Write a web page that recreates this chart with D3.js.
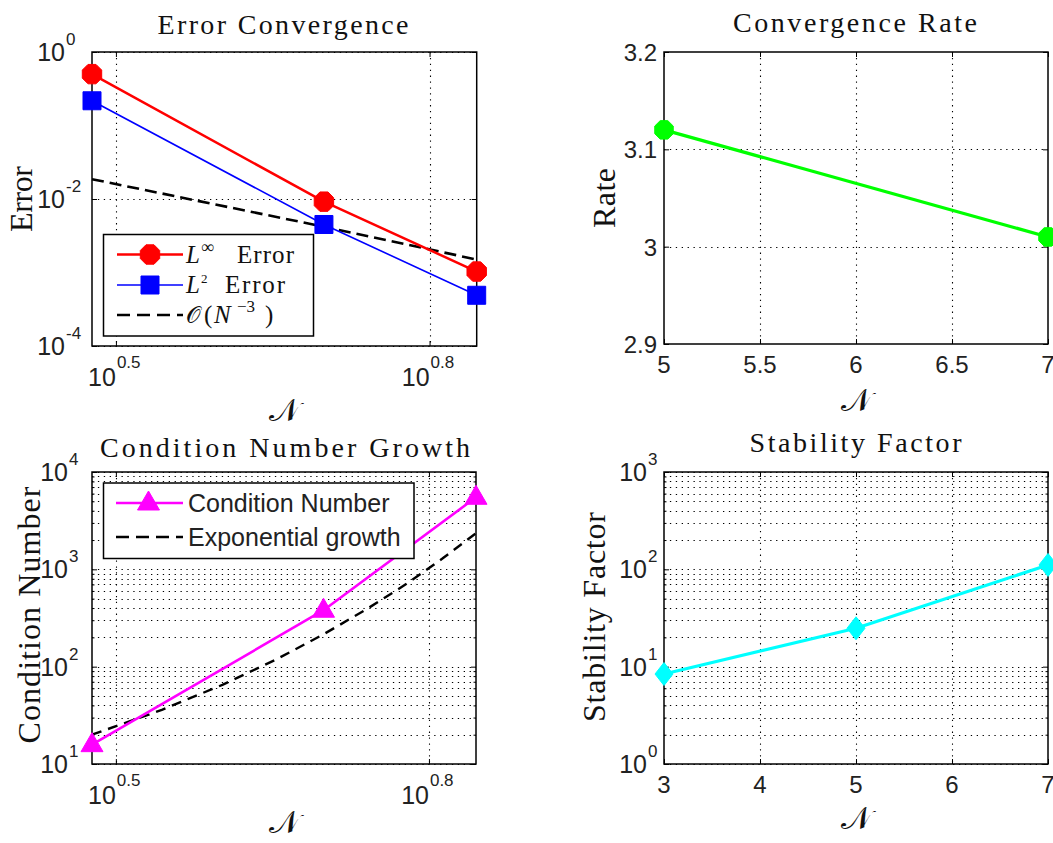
<!DOCTYPE html>
<html>
<head>
<meta charset="utf-8">
<script src="https://cdn.jsdelivr.net/npm/d3@7"></script>
<style>
  html, body { margin: 0; padding: 0; background: #fff; }
  svg { display: block; }
</style>
</head>
<body>
<svg id="fig" width="1053" height="843"></svg>
<script>
// ---- data ----
const errN = [3, 5, 7];
const errLinf = [0.50, 0.0092, 0.00103];
const errL2 = [0.217, 0.0045, 0.00049];
const refCubic = [0.0186, 0.0042, 0.0015];

const rateN = [5, 7];
const rateVals = [3.12, 3.01];

const condN = [3, 5, 7];
const condVals = [15.8, 380, 5500];
const growthN = [3, 3.5, 4, 4.5, 5, 5.5, 6, 6.5, 7];
const growthVals = [20, 36, 65, 118, 215, 390, 705, 1290, 2350];

const stabN = [3, 5, 7];
const stabVals = [8.4, 24.8, 111];

// ---- tick definitions ----
const logNTicks = [Math.pow(10, 0.5), Math.pow(10, 0.8)];
const logNTickExp = ["0.5", "0.8"];
const errYTicks = [1, 1e-2, 1e-4];
const errYTickExp = ["0", "-2", "-4"];
const rateXTicks = [5, 5.5, 6, 6.5, 7];
const rateXLabels = ["5", "5.5", "6", "6.5", "7"];
const rateYTicks = [2.9, 3.0, 3.1, 3.2];
const rateYLabels = ["2.9", "3", "3.1", "3.2"];
const condYTicks = [1e1, 1e2, 1e3, 1e4];
const condYTickExp = ["1", "2", "3", "4"];
const stabXTicks = [3, 4, 5, 6, 7];
const stabXLabels = ["3", "4", "5", "6", "7"];
const stabYTicks = [1, 1e1, 1e2, 1e3];
const stabYTickExp = ["0", "1", "2", "3"];

const SERIF = "'Liberation Serif', 'Times New Roman', serif";
const SANS = "'Liberation Sans', Arial, Helvetica, sans-serif";
const MATHFONT = "'DejaVu Serif', 'DejaVu Sans', serif";
const TICK_FS = 24, EXP_FS = 17;

const svg = d3.select("#fig");

function minorLogValues(domain) {
  const out = [];
  const lo = Math.floor(Math.log10(domain[0])), hi = Math.ceil(Math.log10(domain[1]));
  for (let k = lo; k < hi; k++) for (let m = 2; m <= 9; m++) {
    const v = m * Math.pow(10, k);
    if (v > domain[0] && v < domain[1]) out.push(v);
  }
  return out;
}

function drawPanel(p) {
  const g = svg.append("g");
  const x = p.x, y = p.y;
  const [x0, x1] = x.range(), [y1, y0] = y.range();

  // gridlines
  const grid = g.append("g").attr("stroke", "#000").attr("stroke-width", 1.1)
    .attr("stroke-dasharray", "1.3,4.6");
  const hLines = p.yGrid.concat(p.yMinorGrid || []);
  grid.selectAll("line.h").data(hLines).join("line")
    .attr("x1", x0).attr("x2", x1)
    .attr("y1", d => Math.round(y(d)) + 0.5).attr("y2", d => Math.round(y(d)) + 0.5);
  grid.selectAll("line.v").data(p.xGrid).join("line")
    .attr("y1", y0).attr("y2", y1)
    .attr("x1", d => Math.round(x(d)) + 0.5).attr("x2", d => Math.round(x(d)) + 0.5);

  // tick marks on all four sides, pointing inward
  const tickG = g.append("g");
  const axes = [
    [d3.axisBottom(x), `translate(0,${y1})`, p.xTicks, 5],
    [d3.axisTop(x), `translate(0,${y0})`, p.xTicks, 5],
    [d3.axisLeft(y), `translate(${x0},0)`, p.yTicks, 5],
    [d3.axisRight(y), `translate(${x1},0)`, p.yTicks, 5]
  ];
  if (p.yMinorTicks) {
    axes.push([d3.axisLeft(y), `translate(${x0},0)`, p.yMinorTicks, 2.5]);
    axes.push([d3.axisRight(y), `translate(${x1},0)`, p.yMinorTicks, 2.5]);
  }
  axes.forEach(([ax, tr, vals, len]) => {
    const a = tickG.append("g").attr("transform", tr)
      .call(ax.tickValues(vals).tickSizeInner(-len).tickSizeOuter(0).tickFormat(""));
    a.select(".domain").remove();
    a.selectAll("line").attr("stroke", "#000").attr("stroke-width", 1);
  });

  // series
  p.series.forEach(s => {
    const line = d3.line().x((d, i) => x(s.xs[i])).y(d => y(d));
    g.append("path").datum(s.ys).attr("d", line)
      .attr("fill", "none").attr("stroke", s.color).attr("stroke-width", s.width)
      .attr("stroke-dasharray", s.dash || null).attr("stroke-linejoin", "round");
  });

  // axes box
  g.append("rect").attr("x", x0).attr("y", y0).attr("width", x1 - x0).attr("height", y1 - y0)
    .attr("fill", "none").attr("stroke", "#000").attr("stroke-width", 1.5);

  // markers
  p.series.forEach(s => {
    if (!s.marker) return;
    g.append("g").selectAll("path").data(s.ys).join("path")
      .attr("transform", (d, i) => `translate(${x(s.xs[i])},${y(d)})`)
      .attr("d", markerPath(s.marker)).attr("fill", s.color).attr("stroke", s.color)
      .attr("stroke-width", 1);
  });

  // tick labels
  const lab = g.append("g").attr("font-family", SANS).attr("fill", "#222");
  if (p.xLogLabels) {
    p.xTicks.forEach((v, i) => {
      lab.append("text").attr("x", x(v)).attr("y", y1 + 40).attr("text-anchor", "end")
        .attr("font-size", TICK_FS + 1).text("10");
      lab.append("text").attr("x", x(v) + 1).attr("y", y1 + 22).attr("text-anchor", "start")
        .attr("font-size", EXP_FS).text(p.xLogLabels[i]);
    });
  } else {
    p.xTicks.forEach((v, i) => {
      lab.append("text").attr("x", x(v)).attr("y", y1 + 29).attr("text-anchor", "middle")
        .attr("font-size", TICK_FS).text(p.xLabels[i]);
    });
  }
  if (p.yLogLabels) {
    p.yTicks.forEach((v, i) => {
      lab.append("text").attr("x", p.yBaseRight).attr("y", y(v) + 9).attr("text-anchor", "end")
        .attr("font-size", TICK_FS + 1).text("10");
      lab.append("text").attr("x", p.yBaseRight + 1).attr("y", y(v) - 7).attr("text-anchor", "start")
        .attr("font-size", EXP_FS).text(p.yLogLabels[i]);
    });
  } else {
    p.yTicks.forEach((v, i) => {
      lab.append("text").attr("x", x0 - 7).attr("y", y(v) + 9).attr("text-anchor", "end")
        .attr("font-size", TICK_FS).text(p.yLabels[i]);
    });
  }

  // title
  g.append("text").attr("x", p.title.cx).attr("y", p.title.y).attr("text-anchor", "middle")
    .attr("font-family", SERIF).attr("font-size", 28).attr("fill", "#111")
    .attr("textLength", p.title.w).attr("lengthAdjust", "spacing").text(p.title.text);

  // y label
  g.append("text").attr("transform", `translate(${p.ylab.x},${p.ylab.cy}) rotate(-90)`)
    .attr("text-anchor", "middle").attr("font-family", SERIF).attr("font-size", 32).attr("fill", "#111")
    .attr("textLength", p.ylab.w).attr("lengthAdjust", "spacing").text(p.ylab.text);

  // x label (calligraphic N)
  g.append("text").attr("x", (x0 + x1) / 2).attr("y", p.xlabY).attr("text-anchor", "middle")
    .attr("font-family", MATHFONT).attr("font-size", 32).attr("fill", "#111").text("\u{1D4A9}");

  return g;
}

function octagon(r) {
  const pts = [];
  for (let k = 0; k < 8; k++) {
    const a = Math.PI / 8 + k * Math.PI / 4;
    pts.push([r * Math.cos(a), r * Math.sin(a)]);
  }
  return "M" + pts.map(p => p.join(",")).join("L") + "Z";
}

function markerPath(type) {
  if (type === "octagon") return octagon(10.5);
  if (type === "octagonSmall") return octagon(10);
  if (type === "square") return "M-9,-9L9,-9L9,9L-9,9Z";
  if (type === "triangle") return "M0,-12L-11,7L11,7Z";
  if (type === "diamond") return "M0,-11.5L9,0L0,11.5L-9,0Z";
  return "";
}

// ---- Panel 1: error convergence ----
drawPanel({
  x: d3.scaleLog().domain([3, 7]).range([92, 476.7]),
  y: d3.scaleLog().domain([1e-4, 1]).range([346, 52]),
  xTicks: logNTicks, xGrid: logNTicks, xLogLabels: logNTickExp,
  yTicks: errYTicks, yGrid: errYTicks, yLogLabels: errYTickExp, yBaseRight: 65,
  series: [
    { xs: errN, ys: refCubic, color: "#000", width: 2.6, dash: "12,6" },
    { xs: errN, ys: errLinf, color: "#ff0000", width: 2.5, marker: "octagon" },
    { xs: errN, ys: errL2, color: "#0000ff", width: 1.6, marker: "square" }
  ],
  title: { text: "Error Convergence", cx: 283, y: 34, w: 251 },
  ylab: { text: "Error", x: 32, cy: 199, w: 66 },
  xlabY: 421
});

// ---- Panel 2: convergence rate ----
drawPanel({
  x: d3.scaleLinear().domain([5, 7]).range([664, 1048]),
  y: d3.scaleLinear().domain([2.9, 3.2]).range([344, 52]),
  xTicks: rateXTicks, xGrid: [5.5, 6, 6.5], xLabels: rateXLabels,
  yTicks: rateYTicks, yGrid: [3.0, 3.1], yLabels: rateYLabels,
  series: [
    { xs: rateN, ys: rateVals, color: "#00ff00", width: 3.2, marker: "octagonSmall" }
  ],
  title: { text: "Convergence Rate", cx: 855, y: 32, w: 244 },
  ylab: { text: "Rate", x: 615, cy: 198, w: 60 },
  xlabY: 411
});

// ---- Panel 3: condition number growth ----
drawPanel({
  x: d3.scaleLog().domain([3, 7]).range([92, 476]),
  y: d3.scaleLog().domain([10, 1e4]).range([764, 472]),
  xTicks: logNTicks, xGrid: logNTicks, xLogLabels: logNTickExp,
  yTicks: condYTicks, yGrid: condYTicks, yLogLabels: condYTickExp, yBaseRight: 68,
  yMinorGrid: minorLogValues([10, 1e4]), yMinorTicks: minorLogValues([10, 1e4]),
  series: [
    { xs: growthN, ys: growthVals, color: "#000", width: 2.4, dash: "10,7" },
    { xs: condN, ys: condVals, color: "#ff00ff", width: 2.6, marker: "triangle" }
  ],
  title: { text: "Condition Number Growth", cx: 285, y: 457, w: 370 },
  ylab: { text: "Condition Number", x: 40, cy: 615, w: 257 },
  xlabY: 833
});

// ---- Panel 4: stability factor ----
drawPanel({
  x: d3.scaleLinear().domain([3, 7]).range([664, 1048]),
  y: d3.scaleLog().domain([1, 1e3]).range([764, 472]),
  xTicks: stabXTicks, xGrid: [4, 5, 6], xLabels: stabXLabels,
  yTicks: stabYTicks, yGrid: stabYTicks, yLogLabels: stabYTickExp, yBaseRight: 647,
  yMinorGrid: minorLogValues([1, 1e3]), yMinorTicks: minorLogValues([1, 1e3]),
  series: [
    { xs: stabN, ys: stabVals, color: "#00ffff", width: 3.2, marker: "diamond" }
  ],
  title: { text: "Stability Factor", cx: 855.5, y: 452, w: 212 },
  ylab: { text: "Stability Factor", x: 605, cy: 617, w: 210 },
  xlabY: 829
});

// ---- Legends ----
function legendBox(x0, y0, w, h) {
  const g = svg.append("g");
  g.append("rect").attr("x", x0).attr("y", y0).attr("width", w).attr("height", h)
    .attr("fill", "#fff").attr("stroke", "#000").attr("stroke-width", 1.5);
  return g;
}

// error legend
{
  const g = legendBox(103.5, 234.5, 210, 101.5);
  const rows = [
    { cy: 254.5, color: "#ff0000", width: 2.5, marker: "octagon", sup: "\u221E", ex: 237, ew: 57 },
    { cy: 285, color: "#0000ff", width: 1.6, marker: "square", sup: "2", ex: 225, ew: 60 },
    { cy: 315, color: "#000", width: 2.6, dash: "13,7" }
  ];
  rows.forEach((r, i) => {
    g.append("line").attr("x1", 117).attr("x2", 183).attr("y1", r.cy).attr("y2", r.cy)
      .attr("stroke", r.color).attr("stroke-width", r.width).attr("stroke-dasharray", r.dash || null);
    if (r.marker) g.append("path").attr("transform", `translate(150,${r.cy})`)
      .attr("d", markerPath(r.marker)).attr("fill", r.color).attr("stroke", r.color);
    const base = r.cy + 8;
    const t = g.append("g").attr("font-family", SERIF).attr("fill", "#111");
    if (i < 2) {
      t.append("text").attr("x", 186).attr("y", base).attr("font-size", 25)
        .attr("font-style", "italic").text("L");
      t.append("text").attr("x", 201).attr("y", base - 10)
        .attr("font-size", i === 0 ? 18 : 13).text(r.sup);
      t.append("text").attr("x", r.ex).attr("y", base).attr("font-size", 25)
        .attr("textLength", r.ew).attr("lengthAdjust", "spacing").text("Error");
    } else {
      t.append("text").attr("x", 186).attr("y", base).attr("font-family", MATHFONT)
        .attr("font-size", 23).text("\u{1D4AA}");
      t.append("text").attr("x", 204).attr("y", base).attr("font-size", 25).text("(");
      t.append("text").attr("x", 214).attr("y", base).attr("font-size", 25)
        .attr("font-style", "italic").text("N");
      t.append("text").attr("x", 237).attr("y", base - 11).attr("font-size", 17).text("\u22123");
      t.append("text").attr("x", 265).attr("y", base).attr("font-size", 25).text(")");
    }
  });
}

// condition number legend
{
  const g = legendBox(103.5, 483, 310.5, 75.5);
  const rows = [
    { cy: 503, color: "#ff00ff", width: 2.6, marker: "triangle", label: "Condition Number" },
    { cy: 537, color: "#000", width: 2.4, dash: "13,7", label: "Exponential growth" }
  ];
  rows.forEach(r => {
    g.append("line").attr("x1", 116).attr("x2", 183).attr("y1", r.cy).attr("y2", r.cy)
      .attr("stroke", r.color).attr("stroke-width", r.width).attr("stroke-dasharray", r.dash || null);
    if (r.marker) g.append("path").attr("transform", `translate(148.5,${r.cy})`)
      .attr("d", markerPath(r.marker)).attr("fill", r.color).attr("stroke", r.color);
    g.append("text").attr("x", 188).attr("y", r.cy + 9)
      .attr("font-family", SANS).attr("font-size", 25).attr("fill", "#222").text(r.label);
  });
}
</script>
</body>
</html>
